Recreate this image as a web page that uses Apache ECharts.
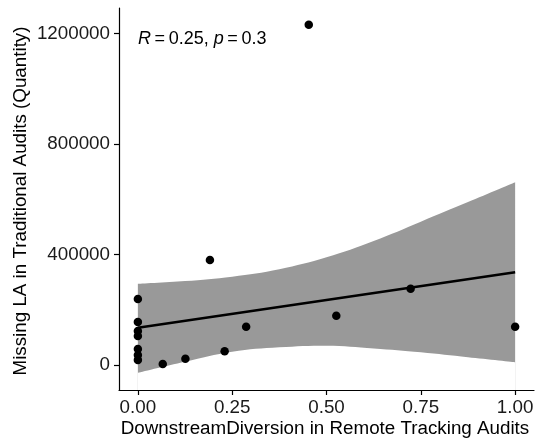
<!DOCTYPE html>
<html>
<head>
<meta charset="utf-8">
<script src="https://cdn.jsdelivr.net/npm/echarts@6/dist/echarts.min.js"></script>
<style>html,body{margin:0;padding:0;background:#fff;}#c{width:538px;height:445px;}</style>
</head>
<body>
<div id="c"></div>
<script>
// scatter points
const pointX = [0, 0, 0, 0, 0, 0, 0, 0.066, 0.126, 0.191, 0.230, 0.287, 0.453, 0.526, 0.723, 1.0];
const pointY = [239000, 156000, 123000, 105000, 58000, 36000, 18000, 3600, 22800, 380000, 49600, 138800, 1232000, 178600, 276400, 138800];
// fitted line
const fitX = [0, 1];
const fitY = [135000, 336000];
// confidence band
const bandX = [0, 0.125, 0.25, 0.375, 0.5, 0.625, 0.75, 0.875, 1];
const bandUpper = [294000, 304000, 320000, 347000, 390000, 449000, 519000, 590000, 662000];
const bandLower = [-28000, 12000, 48000, 64000, 70000, 60000, 46000, 28000, 10000];
// ticks
const xTicks = [0, 0.25, 0.5, 0.75, 1];
const yTicks = [0, 400000, 800000, 1200000];

const FONT = '"Liberation Sans", Arial, sans-serif';
const chart = echarts.init(document.getElementById('c'));
chart.setOption({
  animation: false,
  grid: { left: 119, right: 4, top: 8, bottom: 55, containLabel: false, outerBoundsMode: 'none' },
  xAxis: {
    type: 'value', min: -0.05, max: 1.05, z: 10,
    axisLine: { show: true, onZero: false, lineStyle: { color: '#000', width: 1.2 } },
    axisTick: { show: true, length: 5, lineStyle: { color: '#000', width: 1.2 }, customValues: xTicks },
    axisLabel: { fontFamily: FONT, fontSize: 18.8, color: '#1a1a1a', margin: 8, customValues: xTicks,
      formatter: v => v.toFixed(2) },
    splitLine: { show: false }
  },
  yAxis: {
    type: 'value', min: -90580, max: 1293000, z: 10,
    axisLine: { show: true, onZero: false, lineStyle: { color: '#000', width: 1.2 } },
    axisTick: { show: true, length: 5, lineStyle: { color: '#000', width: 1.2 }, customValues: yTicks },
    axisLabel: { fontFamily: FONT, fontSize: 18.8, color: '#1a1a1a', margin: 9, customValues: yTicks,
      formatter: v => String(v) },
    splitLine: { show: false }
  },
  series: [
    {
      type: 'line', symbol: 'none', smooth: 0.4, silent: true, z: 1,
      lineStyle: { width: 0, opacity: 0 },
      areaStyle: { color: '#999999', opacity: 1, origin: 'start' },
      data: bandX.map((x, i) => [x, bandUpper[i]])
    },
    {
      type: 'line', symbol: 'none', smooth: 0.4, silent: true, z: 1,
      lineStyle: { width: 0, opacity: 0 },
      areaStyle: { color: '#ffffff', opacity: 1, origin: 'start' },
      data: bandX.map((x, i) => [x, bandLower[i]])
    },
    {
      type: 'line', symbol: 'none', z: 2,
      lineStyle: { color: '#000', width: 2.6 },
      data: fitX.map((x, i) => [x, fitY[i]])
    },
    {
      type: 'scatter', symbol: 'circle', symbolSize: 8.5, z: 3,
      itemStyle: { color: '#000', opacity: 1 },
      data: pointX.map((x, i) => [x, pointY[i]])
    }
  ],
  graphic: [
    {
      type: 'text', left: 138, top: 30,
      style: {
        text: '{i|R}\u2009=\u20090.25, {i|p}\u2009=\u20090.3',
        font: '18px ' + FONT, fill: '#000',
        rich: { i: { fontStyle: 'italic', fontFamily: FONT, fontSize: 18, fill: '#000' } }
      }
    },
    {
      type: 'text', x: 325, y: 429,
      style: {
        text: 'DownstreamDiversion in Remote Tracking Audits',
        font: '18.8px ' + FONT, fill: '#000', align: 'center', verticalAlign: 'middle'
      }
    },
    {
      type: 'text', x: 21, y: 201, rotation: Math.PI / 2,
      style: {
        text: 'Missing LA in Traditional Audits (Quantity)',
        font: '18.8px ' + FONT, fill: '#000', align: 'center', verticalAlign: 'middle'
      }
    }
  ]
});
</script>
</body>
</html>
